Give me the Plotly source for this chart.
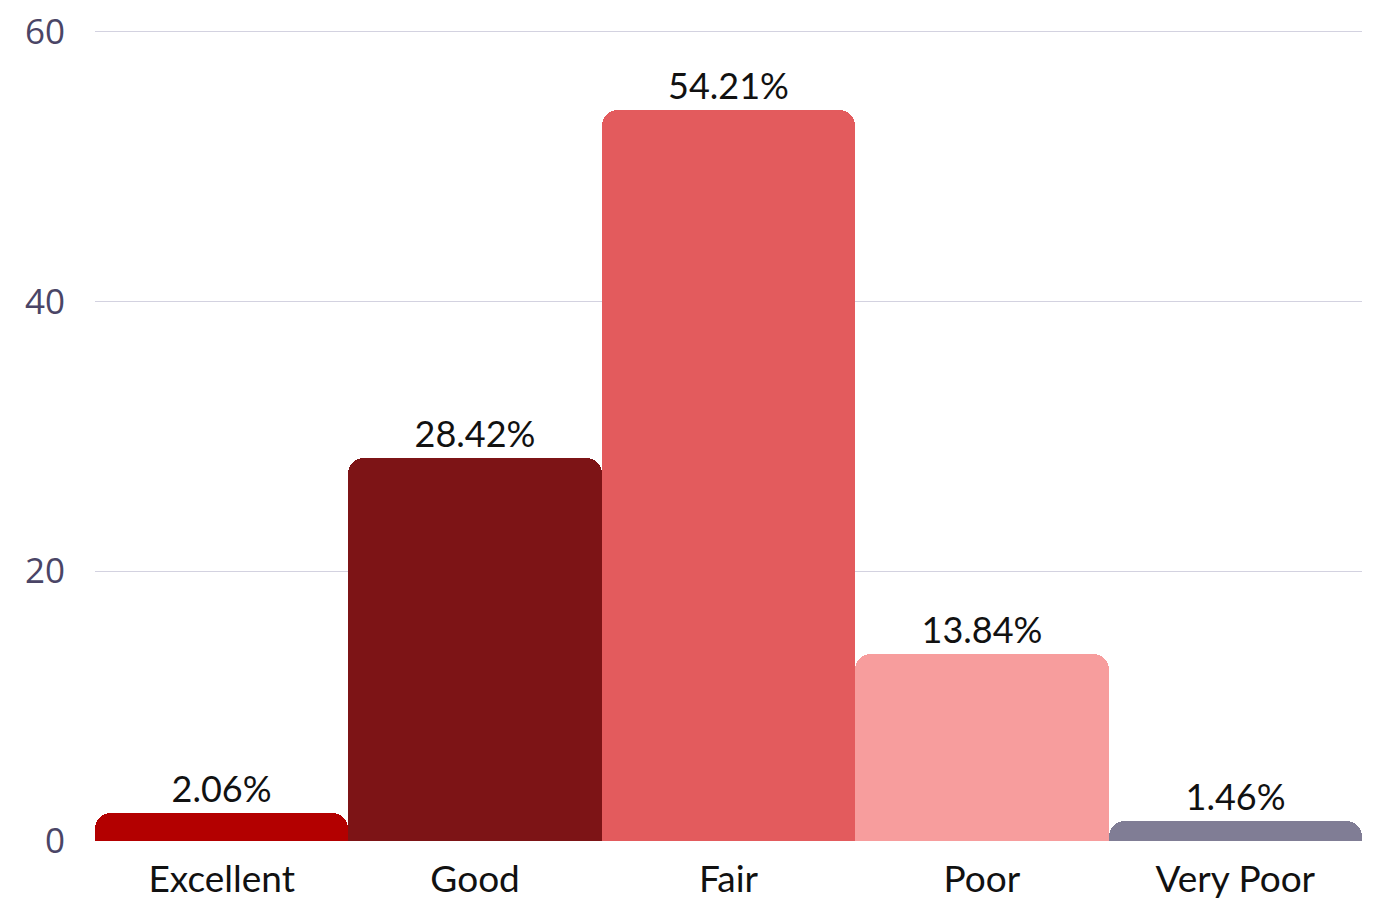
import plotly.graph_objects as go

# Survey rating distribution
categories = ["Excellent", "Good", "Fair", "Poor", "Very Poor"]
shares = [2.06, 28.42, 54.21, 13.84, 1.46]
bar_colors = ["#b30000", "#7d1416", "#e35b5d", "#f79d9d", "#807d95"]
y_ticks = [0, 20, 40, 60]

value_font = dict(family="Lato, sans-serif", size=36, color="#111111")
category_font = dict(family="Lato, sans-serif", size=37, color="#111111")

fig = go.Figure(
    go.Bar(
        x=categories,
        y=shares,
        marker=dict(color=bar_colors, line=dict(width=0)),
        text=[f"{v:.2f}%" for v in shares],
        textposition="outside",
        textfont=value_font,
        cliponaxis=False,
    )
)

fig.update_layout(
    width=1385,
    height=899,
    margin=dict(l=95, r=23, t=29, b=58, autoexpand=False),
    paper_bgcolor="white",
    plot_bgcolor="white",
    bargap=0,
    barcornerradius=16,
    showlegend=False,
    font=dict(family="Lato, sans-serif"),
    xaxis=dict(
        automargin=False,
        showgrid=False,
        showline=False,
        ticks="outside",
        ticklen=6,
        tickcolor="rgba(0,0,0,0)",
        tickfont=category_font,
    ),
    yaxis=dict(
        automargin=False,
        range=[0, 60.2],
        tickvals=y_ticks,
        showgrid=True,
        gridcolor="#d3d2e0",
        gridwidth=1,
        zeroline=False,
        showline=False,
        ticks="outside",
        ticklen=22,
        tickcolor="rgba(0,0,0,0)",
        tickfont=dict(family="Open Sans, sans-serif", size=35, color="#4a4566"),
    ),
)

fig.write_html("out.html")
